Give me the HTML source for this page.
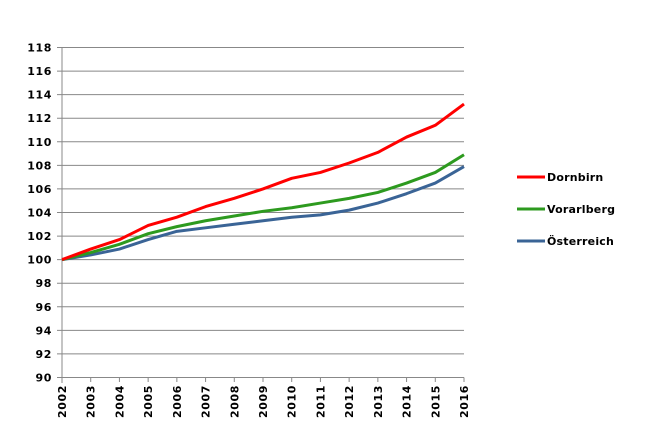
<!DOCTYPE html>
<html><head><meta charset="utf-8"><style>
html,body{margin:0;padding:0;background:#fff;}
svg text{font-family:"DejaVu Sans","Liberation Sans",sans-serif;font-weight:bold;font-size:11px;fill:#000;letter-spacing:0.6px;}
svg text.l{letter-spacing:0.2px;}
</style></head><body>
<svg id="c" width="669" height="432" xmlns="http://www.w3.org/2000/svg"></svg>
<script>
const s=document.getElementById('c');let h='';
const X=i=>62+i*(402/14), Y=v=>377.5-(v-90)*(330/28);
for(let v=90;v<=118;v+=2){const y=Y(v);h+=`<line x1="57" x2="464" y1="${y}" y2="${y}" stroke="#888" stroke-width="1"/>`;
h+=`<text x="52" y="${y+4}" text-anchor="end">${v}</text>`;}
h+=`<line x1="62" x2="62" y1="47" y2="383" stroke="#888"/>`;
for(let i=0;i<15;i++){const x=X(i);h+=`<line x1="${x}" x2="${x}" y1="377.5" y2="382" stroke="#888"/>`;
h+=`<text transform="translate(${x+4},418) rotate(-90)">${2002+i}</text>`;}
const d=[["#ff0000",[100,100.9,101.7,102.9,103.6,104.5,105.2,106.0,106.9,107.4,108.2,109.1,110.4,111.4,113.2]],
["#2d9a1f",[100,100.6,101.3,102.2,102.8,103.3,103.7,104.1,104.4,104.8,105.2,105.7,106.5,107.4,108.9]],
["#3a6496",[100,100.4,100.9,101.7,102.4,102.7,103.0,103.3,103.6,103.8,104.2,104.8,105.6,106.5,107.9]]];
for(let k=2;k>=0;k--){h+=`<polyline fill="none" stroke="${d[k][0]}" stroke-width="3" stroke-linejoin="round" points="${d[k][1].map((v,i)=>X(i)+','+Y(v)).join(' ')}"/>`;}
const L=["Dornbirn","Vorarlberg","Österreich"];
for(let k=0;k<3;k++){const y=177+32*k;h+=`<line x1="517" x2="545" y1="${y}" y2="${y}" stroke="${d[k][0]}" stroke-width="3"/>`;
h+=`<text class="l" x="547" y="${y+4}">${L[k]}</text>`;}
s.innerHTML=h;
</script>
</body></html>
